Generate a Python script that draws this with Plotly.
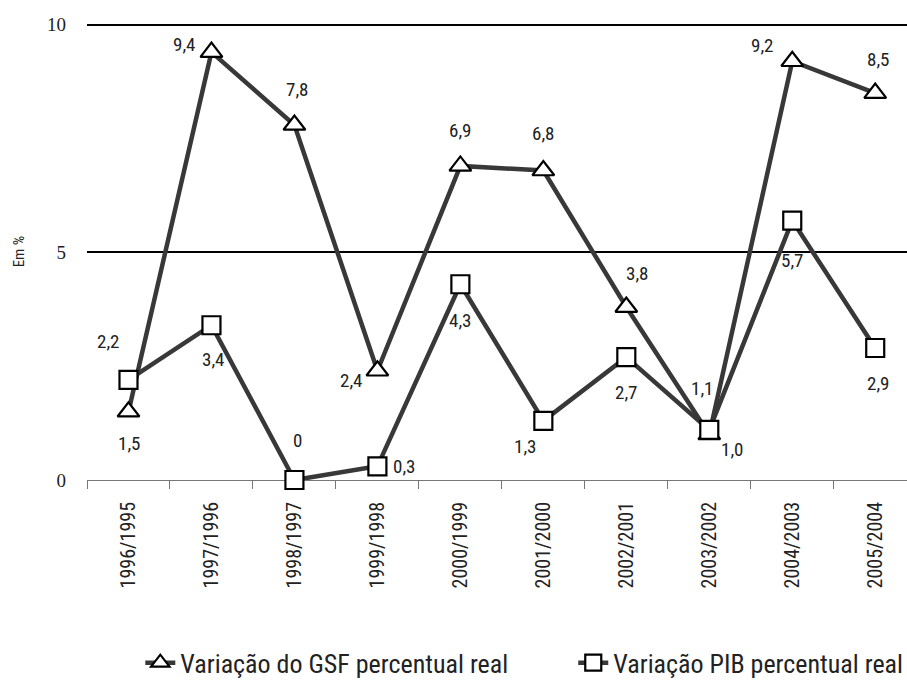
import plotly.graph_objects as go

# Categories and series
periods = ["1996/1995", "1997/1996", "1998/1997", "1999/1998", "2000/1999",
           "2001/2000", "2002/2001", "2003/2002", "2004/2003", "2005/2004"]
gsf = [1.5, 9.4, 7.8, 2.4, 6.9, 6.8, 3.8, 1.0, 9.2, 8.5]
pib = [2.2, 3.4, 0, 0.3, 4.3, 1.3, 2.7, 1.1, 5.7, 2.9]

# Label offsets in pixels (dx, dy) for each point
gsf_off = [(1, -32), (-27, 8), (3, 35), (-26, -10), (0, 35),
           (0, 37), (11, 34), (23, -15), (-30, 16), (3, 34)]
pib_off = [(-20, 38), (2, -34), (3, 40), (27, 0), (0, -36),
           (-18, -26), (0, -35), (-7, 41), (0, -40), (3, -35)]

LINE = "#383838"
FONT = "Roboto Condensed, Roboto, sans-serif"


def fmt(v):
    return ("%.1f" % v).replace(".", ",") if v != 0 else "0"


fig = go.Figure()
fig.add_trace(go.Scatter(
    x=periods, y=gsf, name="Variação do GSF percentual real",
    mode="lines+markers", cliponaxis=False, legend="legend",
    line=dict(color=LINE, width=4.5),
    marker=dict(symbol="triangle-up", size=19, color="white",
                line=dict(color="black", width=2.2)),
))
fig.add_trace(go.Scatter(
    x=periods, y=pib, name="Variação PIB percentual real",
    mode="lines+markers", cliponaxis=False, legend="legend2",
    line=dict(color=LINE, width=4.5),
    marker=dict(symbol="square", size=18, color="white",
                line=dict(color="black", width=2.2)),
))

annotations = []
for vals, offs in ((gsf, gsf_off), (pib, pib_off)):
    for i, (p, v) in enumerate(zip(periods, vals)):
        dx, dy = offs[i]
        annotations.append(dict(
            x=p, y=v, text=fmt(v), showarrow=False,
            xshift=dx, yshift=dy,
            font=dict(family=FONT, size=19, color="#222"),
        ))

legend_font = dict(family=FONT, size=26, color="#222")
fig.update_layout(
    width=907, height=685,
    margin=dict(l=87, r=0, t=23, b=205, autoexpand=False),
    paper_bgcolor="white", plot_bgcolor="white",
    showlegend=True,
    legend=dict(orientation="h", x=0.065, y=-0.40, yanchor="middle",
                xanchor="left", font=legend_font, bgcolor="rgba(0,0,0,0)"),
    legend2=dict(orientation="h", x=0.593, y=-0.40, yanchor="middle",
                 xanchor="left", font=legend_font, bgcolor="rgba(0,0,0,0)"),
    annotations=annotations,
    font=dict(family=FONT, color="#222"),
)
fig.update_xaxes(
    type="category", range=[-0.5, 9.383],
    showgrid=False, showline=False, zeroline=False,
    tickson="boundaries", ticks="outside", ticklen=8, tickcolor="#777",
    tickangle=-90, ticklabelstandoff=17,
    tickfont=dict(family=FONT, size=20, color="#222"),
)
fig.update_yaxes(
    range=[0, 10.04], tickvals=[0, 5, 10], ticktext=["0", "5", "10"],
    showgrid=True, gridcolor="black", gridwidth=2,
    zeroline=True, zerolinecolor="#777", zerolinewidth=1,
    showline=False, ticks="", ticklabelstandoff=20,
    tickfont=dict(family="Liberation Serif", size=19, color="#222"),
    title=dict(text="Em %", font=dict(family=FONT, size=15, color="#222"),
               standoff=18),
)

fig.write_html("out.html")
